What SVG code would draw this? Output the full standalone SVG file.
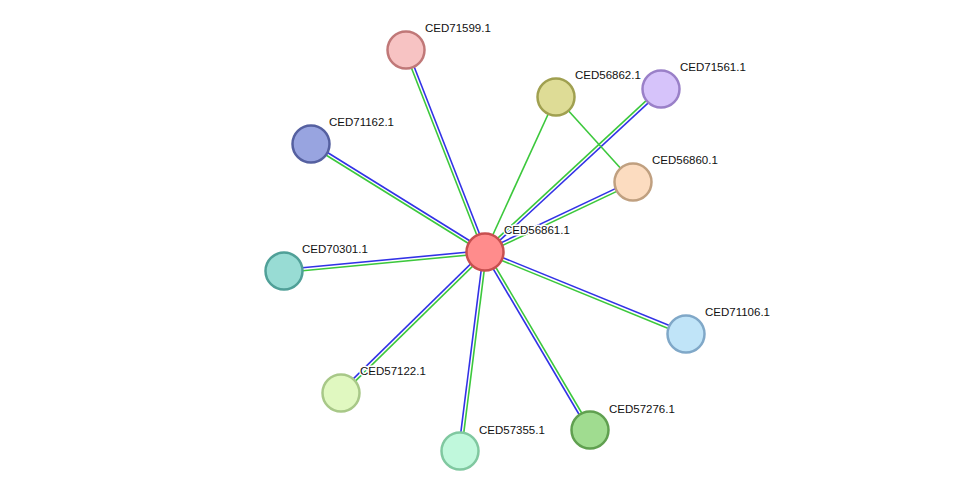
<svg xmlns="http://www.w3.org/2000/svg" width="975" height="497" viewBox="0 0 975 497">
<style>
.b{stroke:#3232e6;stroke-width:1.6;fill:none}
.g{stroke:#3cc83c;stroke-width:1.6;fill:none}
.n{stroke-width:2.5}
text{font-family:"Liberation Sans",Arial,sans-serif;font-size:11.5px;fill:#111;stroke:#fff;stroke-width:3;paint-order:stroke;stroke-linejoin:round}
</style>
<rect width="975" height="497" fill="#fff"/>
<g id="edges">
<g transform="translate(1.4,-0.55)"><line class="b" x1="485" y1="252" x2="406" y2="50"/></g>
<g transform="translate(-1.4,0.55)"><line class="g" x1="485" y1="252" x2="406" y2="50"/></g>
<g transform="translate(1.02,1.1)"><line class="b" x1="485" y1="252" x2="661" y2="89"/></g>
<g transform="translate(-1.02,-1.1)"><line class="g" x1="485" y1="252" x2="661" y2="89"/></g>
<g transform="translate(0.79,-1.27)"><line class="b" x1="485" y1="252" x2="311" y2="144"/></g>
<g transform="translate(-0.79,1.27)"><line class="g" x1="485" y1="252" x2="311" y2="144"/></g>
<g transform="translate(-0.64,-1.35)"><line class="b" x1="485" y1="252" x2="633" y2="182"/></g>
<g transform="translate(0.64,1.35)"><line class="g" x1="485" y1="252" x2="633" y2="182"/></g>
<g transform="translate(-0.14,-1.49)"><line class="b" x1="485" y1="252" x2="284" y2="271"/></g>
<g transform="translate(0.14,1.49)"><line class="g" x1="485" y1="252" x2="284" y2="271"/></g>
<g transform="translate(0.57,-1.39)"><line class="b" x1="485" y1="252" x2="686" y2="334"/></g>
<g transform="translate(-0.57,1.39)"><line class="g" x1="485" y1="252" x2="686" y2="334"/></g>
<g transform="translate(-1.05,-1.07)"><line class="b" x1="485" y1="252" x2="341" y2="393"/></g>
<g transform="translate(1.05,1.07)"><line class="g" x1="485" y1="252" x2="341" y2="393"/></g>
<g transform="translate(-1.49,-0.19)"><line class="b" x1="485" y1="252" x2="460" y2="451"/></g>
<g transform="translate(1.49,0.19)"><line class="g" x1="485" y1="252" x2="460" y2="451"/></g>
<g transform="translate(-1.29,0.76)"><line class="b" x1="485" y1="252" x2="590" y2="430"/></g>
<g transform="translate(1.29,-0.76)"><line class="g" x1="485" y1="252" x2="590" y2="430"/></g>
<line class="g" x1="485" y1="252" x2="556" y2="97"/>
<line class="g" x1="556" y1="97" x2="633" y2="182"/>
</g>
<g id="n71599"><circle class="n" cx="406" cy="50" r="18.5" fill="#f7c3c3" stroke="#c07878"/><text x="425" y="32">CED71599.1</text></g>
<g id="n56862"><circle class="n" cx="556" cy="97" r="18.5" fill="#dedc96" stroke="#a0a050"/><text x="575" y="79">CED56862.1</text></g>
<g id="n71561"><circle class="n" cx="661" cy="89" r="18.5" fill="#d6c3fa" stroke="#9a80c8"/><text x="680" y="71">CED71561.1</text></g>
<g id="n71162"><circle class="n" cx="311" cy="144" r="18.5" fill="#98a4e0" stroke="#5560a0"/><text x="329" y="126">CED71162.1</text></g>
<g id="n56860"><circle class="n" cx="633" cy="182" r="18.5" fill="#fcdcc0" stroke="#c0a080"/><text x="652" y="164">CED56860.1</text></g>
<g id="n70301"><circle class="n" cx="284" cy="271" r="18.5" fill="#98dcd4" stroke="#50a098"/><text x="302" y="253">CED70301.1</text></g>
<g id="n71106"><circle class="n" cx="686" cy="334" r="18.5" fill="#c0e4f8" stroke="#80a8c8"/><text x="705" y="316">CED71106.1</text></g>
<g id="n57122"><circle class="n" cx="341" cy="393" r="18.5" fill="#e0f8c0" stroke="#a8c888"/><text x="360" y="375">CED57122.1</text></g>
<g id="n57355"><circle class="n" cx="460" cy="451" r="18.5" fill="#c0f8dc" stroke="#80c8a0"/><text x="479" y="434">CED57355.1</text></g>
<g id="n57276"><circle class="n" cx="590" cy="430" r="18.5" fill="#a0dc90" stroke="#60a050"/><text x="609" y="413">CED57276.1</text></g>
<g id="n56861"><circle class="n" cx="485" cy="252" r="18.5" fill="#ff8c8c" stroke="#c84f4f"/><text x="504" y="234">CED56861.1</text></g>
</svg>
